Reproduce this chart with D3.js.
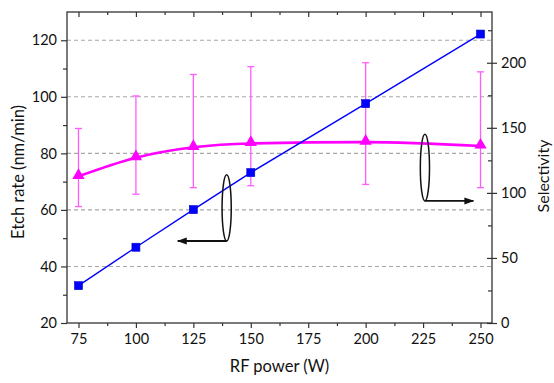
<!DOCTYPE html>
<html><head><meta charset="utf-8">
<script src="https://cdn.jsdelivr.net/npm/d3@7"></script>
<style>
html,body{margin:0;padding:0;background:#fff;}
text{font-family:Lato, "Open Sans", sans-serif;fill:#111;}
</style></head>
<body><svg id="c" width="554" height="383"></svg>
<script>
// ---- data ----
const power = [75, 100, 125, 150, 200, 250];
const etchRate = [33.2, 46.8, 60.1, 73.2, 97.6, 122.2];
const selectivity = [112.7, 127, 135, 138, 139, 136];
const selLow = [89.5, 99, 104, 105.5, 106.5, 104];
const selHigh = [149.5, 174.5, 191, 197, 200, 193];
const xTicks = [75, 100, 125, 150, 175, 200, 225, 250];
const yLeftTicks = [20, 40, 60, 80, 100, 120];
const yRightTicks = [0, 50, 100, 150, 200];
// annotation ellipses (data units): centre x, centre y, half-height, arrow end x
const annoAxis = ["left", "right"];
const annoX = [139.5, 225.8];
const annoY = [60.7, 119.4];
const annoRy = [11.7, 25.6];
const annoArrowTo = [118.2, 246.9];

const W = 554, H = 383;
const m = {l: 67, r: 62, t: 12, b: 60};
const svg = d3.select("#c");
const x = d3.scaleLinear().domain([70, 255]).range([m.l, W - m.r]);
const yL = d3.scaleLinear().domain([20, 130]).range([H - m.b, m.t]);
const yR = d3.scaleLinear().domain([0, 239]).range([H - m.b, m.t]);

const axisCol = "#333";

// grid
svg.append("g").selectAll("line").data(yLeftTicks.filter(d => d > 20)).join("line")
  .attr("x1", m.l).attr("x2", W - m.r)
  .attr("y1", d => yL(d)).attr("y2", d => yL(d))
  .attr("stroke", "#a8a8a8").attr("stroke-width", 1.1).attr("stroke-dasharray", "4,3");

// axes
function styleAxis(g) {
  g.select(".domain").remove();
  g.selectAll(".tick line").attr("stroke", axisCol).attr("stroke-width", 1.2);
  g.selectAll("text").style("font-size", "14.5px").attr("fill", "#111");
}
const xMinor = d3.range(87.5, 255, 25);
// bottom
const gb = svg.append("g").attr("transform", `translate(0,${H - m.b})`)
  .call(d3.axisBottom(x).tickValues(xTicks).tickSize(5).tickPadding(6).tickFormat(d3.format("d")));
styleAxis(gb);
svg.append("g").attr("transform", `translate(0,${H - m.b})`)
  .call(d3.axisBottom(x).tickValues(xMinor).tickSize(3).tickFormat(""))
  .call(styleAxis);
// top (inward)
svg.append("g").attr("transform", `translate(0,${m.t})`)
  .call(d3.axisTop(x).tickValues(xTicks).tickSize(-5).tickFormat(""))
  .call(styleAxis);
svg.append("g").attr("transform", `translate(0,${m.t})`)
  .call(d3.axisTop(x).tickValues(xMinor).tickSize(-3).tickFormat(""))
  .call(styleAxis);
// left
const gl = svg.append("g").attr("transform", `translate(${m.l},0)`)
  .call(d3.axisLeft(yL).tickValues(yLeftTicks).tickSize(6).tickPadding(4));
styleAxis(gl);
svg.append("g").attr("transform", `translate(${m.l},0)`)
  .call(d3.axisLeft(yL).tickValues(d3.range(30, 130, 20)).tickSize(4).tickFormat(""))
  .call(styleAxis);
// right
const gr = svg.append("g").attr("transform", `translate(${W - m.r},0)`)
  .call(d3.axisRight(yR).tickValues(yRightTicks).tickSize(5).tickPadding(4));
styleAxis(gr);
gr.selectAll(".tick line").attr("x1", -5);
svg.append("g").attr("transform", `translate(${W - m.r},0)`)
  .call(d3.axisRight(yR).tickValues(d3.range(25, 239, 50)).tickSize(-4).tickFormat(""))
  .call(styleAxis);

// frame
svg.append("rect").attr("x", m.l).attr("y", m.t)
  .attr("width", W - m.l - m.r).attr("height", H - m.t - m.b)
  .attr("fill", "none").attr("stroke", axisCol).attr("stroke-width", 1.3);

// titles
svg.append("text").attr("x", (m.l + W - m.r) / 2).attr("y", 372)
  .attr("text-anchor", "middle").style("font-size", "16.5px").text("RF power (W)");
svg.append("text").attr("transform", `translate(24,172) rotate(-90)`)
  .attr("text-anchor", "middle").style("font-size", "16.5px").text("Etch rate (nm/min)");
svg.append("text").attr("transform", `translate(549,176) rotate(-90)`)
  .attr("text-anchor", "middle").style("font-size", "16px").text("Selectivity");

// error bars
const mag = "#ff00ff", magLight = "#ff5cff";
const eb = svg.append("g").attr("stroke", magLight).attr("stroke-width", 1.3);
power.forEach((p, i) => {
  eb.append("line").attr("x1", x(p)).attr("x2", x(p)).attr("y1", yR(selLow[i])).attr("y2", yR(selHigh[i]));
  [selLow[i], selHigh[i]].forEach(v => eb.append("line")
    .attr("x1", x(p) - 3.5).attr("x2", x(p) + 3.5).attr("y1", yR(v)).attr("y2", yR(v)));
});

// selectivity line
const selPts = power.map((p, i) => [p, selectivity[i]]);
svg.append("path").datum(selPts)
  .attr("d", d3.line().x(d => x(d[0])).y(d => yR(d[1])).curve(d3.curveMonotoneX))
  .attr("fill", "none").attr("stroke", mag).attr("stroke-width", 2.6);
svg.append("g").selectAll("path").data(selPts).join("path")
  .attr("d", d3.symbol(d3.symbolTriangle, 66)())
  .attr("transform", d => `translate(${x(d[0])},${yR(d[1]) - 1})`)
  .attr("fill", mag);

// etch line
const etchPts = power.map((p, i) => [p, etchRate[i]]);
svg.append("path").datum(etchPts)
  .attr("d", d3.line().x(d => x(d[0])).y(d => yL(d[1])))
  .attr("fill", "none").attr("stroke", "#0000ff").attr("stroke-width", 1.4);
svg.append("g").selectAll("rect").data(etchPts).join("rect")
  .attr("x", d => x(d[0]) - 4).attr("y", d => yL(d[1]) - 4)
  .attr("width", 8).attr("height", 8).attr("fill", "#0000ff").attr("stroke", "#0000cc").attr("stroke-width", 0.6);

// annotations
const defs = svg.append("defs");
defs.append("marker").attr("id", "ah").attr("viewBox", "0 0 10 10")
  .attr("refX", 9).attr("refY", 5).attr("markerWidth", 10).attr("markerHeight", 10)
  .attr("markerUnits", "userSpaceOnUse").attr("orient", "auto")
  .append("path").attr("d", "M0,1.5 L10,5 L0,8.5 Z").attr("fill", "#111");
annoX.forEach((ax, i) => {
  const ys = annoAxis[i] === "left" ? yL : yR;
  const cx = x(ax), cy = ys(annoY[i]);
  const ry = ys(annoY[i] - annoRy[i]) - cy;
  const rx = x(ax + 2) - cx;
  svg.append("ellipse").attr("cx", cx).attr("cy", cy).attr("rx", rx).attr("ry", ry)
    .attr("fill", "none").attr("stroke", "#111").attr("stroke-width", 1.5);
  svg.append("line").attr("x1", cx).attr("y1", cy + ry).attr("x2", x(annoArrowTo[i])).attr("y2", cy + ry)
    .attr("stroke", "#111").attr("stroke-width", 1.8).attr("marker-end", "url(#ah)");
});
</script></body></html>
